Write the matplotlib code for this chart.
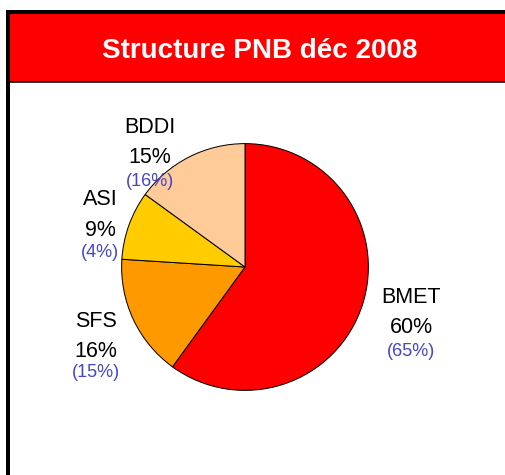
import matplotlib
matplotlib.use("Agg")
import matplotlib.pyplot as plt
from matplotlib.patches import Rectangle

# ---- data ----
title = "Structure PNB déc 2008"
categories = ["BMET", "SFS", "ASI", "BDDI"]
shares = [60, 16, 9, 15]            # déc 2008
prev_shares = [65, 15, 4, 16]       # previous period (in brackets)
colors = ["#FF0000", "#FF9900", "#FFCC00", "#FFCC99"]

# ---- layout (pixel positions of label baselines: name, pct, previous) ----
label_pos = {
    "BMET": (411, [303, 333, 356]),
    "SFS": (96, [327, 357, 377]),
    "ASI": (100, [205, 236, 257]),
    "BDDI": (150, [133, 163, 186]),
}

W, H = 506, 475
DPI = 100
fig = plt.figure(figsize=(W / DPI, H / DPI), dpi=DPI)
fig.patch.set_facecolor("white")

bg = fig.add_axes([0, 0, 1, 1])
bg.set_xlim(0, W)
bg.set_ylim(H, 0)
bg.axis("off")

px = 72 / DPI
# outer frame
bg.add_patch(Rectangle((8, 12), 700, 700, facecolor="white", edgecolor="black",
                       linewidth=4 * px, zorder=1))
# red header
bg.add_patch(Rectangle((10, 14), 700, 67.5, facecolor="#FF0000", edgecolor="none", zorder=2))
bg.plot([10, W + 10], [81.8, 81.8], color="black", linewidth=1.6 * px, zorder=3)
bg.text(260, 58, title, color="white", fontsize=20, fontweight="bold",
        family="Liberation Sans", ha="center", va="baseline", zorder=4)

# pie
cx, cy, r = 245, 267, 124
ax = fig.add_axes([(cx - r) / W, (H - cy - r) / H, 2 * r / W, 2 * r / H])
ax.axis("off")
ax.pie(shares, colors=colors, startangle=90, counterclock=False, radius=1,
       wedgeprops=dict(edgecolor="black", linewidth=1.0 * px))
ax.set_xlim(-1.005, 1.005)
ax.set_ylim(-1.005, 1.005)

# overlay for labels (drawn above the pie)
top = fig.add_axes([0, 0, 1, 1])
top.set_xlim(0, W)
top.set_ylim(H, 0)
top.axis("off")
top.patch.set_alpha(0)

for cat, s, p in zip(categories, shares, prev_shares):
    x, ys = label_pos[cat]
    top.text(x, ys[0], cat, fontsize=15.5, family="Liberation Sans", color="black",
             ha="center", va="baseline")
    top.text(x, ys[1], f"{s}%", fontsize=15.5, family="Liberation Sans", color="black",
             ha="center", va="baseline")
    top.text(x, ys[2], f"({p}%)", fontsize=13, family="Liberation Sans", color="#4444CC",
             ha="center", va="baseline")

fig.savefig("out.png", dpi=DPI)
